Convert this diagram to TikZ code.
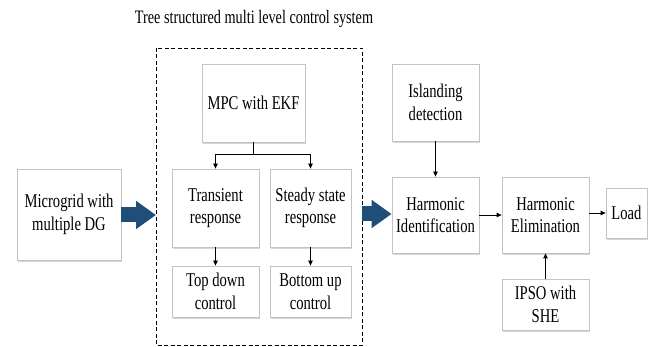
\documentclass[tikz,border=0pt]{standalone}
\usepackage{fontspec}
\setmainfont{Liberation Serif}[FakeStretch=0.75]
\usetikzlibrary{arrows.meta,shadows}
\definecolor{bigarrow}{RGB}{31,78,121}
\definecolor{boxline}{RGB}{195,195,195}
\definecolor{boxshadow}{RGB}{205,215,232}

\begin{document}
\begin{tikzpicture}[x=1pt,y=-1pt]
  \tikzstyle{block}=[draw=boxline,fill=white,line width=0.8pt,align=center,inner sep=0pt,
      font=\fontsize{19.5}{22.5}\selectfont,
      drop shadow={shadow xshift=1.2pt,shadow yshift=-1.6pt,fill=boxshadow,opacity=1}]
  \tikzstyle{link}=[line width=0.8pt,-{Triangle[length=5pt,width=4.5pt]}]
  \tikzstyle{fat}=[line width=15pt,bigarrow,-{Triangle[length=20pt,width=27pt]}]

  \useasboundingbox (0,0) rectangle (656,347);

  % title and dashed frame
  \node[anchor=base,inner sep=0pt,font=\fontsize{19}{22}\selectfont] (title) at (254,24) {Tree structured multi level control system};
  \draw[dashed,line width=0.8pt,dash pattern=on 4pt off 2.5pt] (156,48) rectangle (362,345.5);
  \coordinate (framein) at (156,215);
  \coordinate (frameout) at (362,214);

  % controller tree
  \node[block,minimum width=103pt,minimum height=78pt] (mpc) at (253.5,103) {MPC with EKF};
  \node[block,minimum width=87pt,minimum height=78pt] (trans) at (215.5,208) {Transient\\response};
  \node[block,minimum width=81pt,minimum height=78pt] (steady) at (310.5,208) {Steady state\\response};
  \node[block,minimum width=87pt,minimum height=51pt] (topdown) at (215.5,291.5) {Top down\\control};
  \node[block,minimum width=81pt,minimum height=51pt] (bottomup) at (310.5,291.5) {Bottom up\\control};

  % plant and harmonic chain
  \node[block,minimum width=104pt,minimum height=91pt] (micro) at (69,214.5) {Microgrid with\\multiple DG};
  \node[block,minimum width=87pt,minimum height=77pt] (island) at (435.5,102.5) {Islanding\\detection};
  \node[block,minimum width=87pt,minimum height=76pt] (harmid) at (435.5,215) {Harmonic\\Identification};
  \node[block,minimum width=87pt,minimum height=76pt] (harmel) at (545.5,215) {Harmonic\\Elimination};
  \node[block,minimum width=41pt,minimum height=50pt] (load) at (626.5,213) {Load};
  \node[block,minimum width=87pt,minimum height=51pt] (ipso) at (545.5,304.5) {IPSO with\\SHE};

  % connectors
  \draw[line width=0.8pt] (mpc.south) -- ++(0,12) coordinate (split);
  \draw[link] (split) -| (trans.north);
  \draw[link] (split) -| (steady.north);
  \draw[link] (trans.south) -- (topdown.north);
  \draw[link] (steady.south) -- (bottomup.north);
  \draw[link] (island.south) -- (harmid.north);
  \draw[link] (harmid.east) -- (harmel.west);
  \draw[link] (harmel.east |- load.west) -- (load.west);
  \draw[link] (ipso.north) -- (harmel.south);

  \draw[fat] (micro.east |- framein) -- (framein);
  \draw[fat] (frameout) -- (harmid.west |- frameout);
\end{tikzpicture}
\end{document}
